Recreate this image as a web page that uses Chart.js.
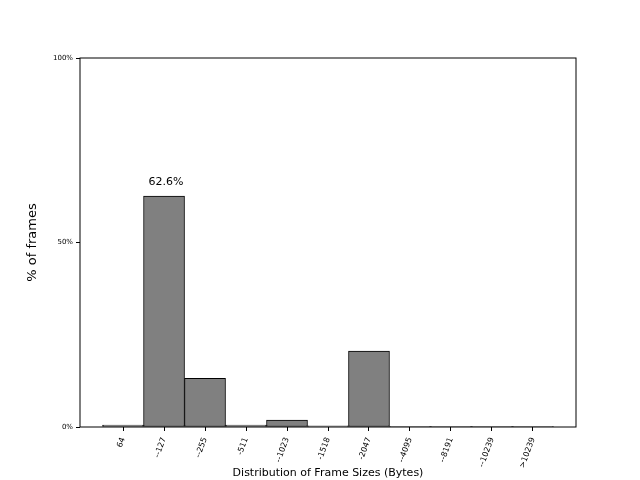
<!DOCTYPE html>
<html>
<head>
<meta charset="utf-8">
<title>Distribution of Frame Sizes</title>
<script src="https://cdn.jsdelivr.net/npm/chart.js@4/dist/chart.umd.min.js"></script>
<style>
    body { margin: 0; background: #fff; }
    canvas { display: block; }
</style>
</head>
<body>
<canvas id="chart" width="640" height="480"></canvas>
<script>
// Tailles de trames (labels de l'axe X)
const sizeLabels = ['64', '--127', '--255', '-511', '--1023', '-1518', '-2047', '--4095', '--8191', '--10239', '>10239'];
// Pourcentage de trames par tranche
const framePercent = [0.5, 62.6, 13.2, 0.5, 1.9, 0.3, 20.6, 0.2, 0.2, 0.2, 0.2];
// Graduations de l'axe Y
const yTicks = [0, 50, 100];

const FONT = 'DejaVu Sans';

// Cadre noir autour de la zone de tracé
const framePlugin = {
    id: 'frame',
    afterDraw(chart) {
        const { ctx, chartArea: a } = chart;
        ctx.save();
        ctx.strokeStyle = '#000';
        ctx.lineWidth = 1;
        ctx.strokeRect(a.left, a.top, a.right - a.left, a.bottom - a.top);
        ctx.restore();
    }
};

// Étiquette de la plus grande barre
const peakLabelPlugin = {
    id: 'peakLabel',
    afterDatasetsDraw(chart) {
        const { ctx } = chart;
        const values = chart.data.datasets[0].data.map(p => p.y);
        const idx = values.indexOf(Math.max(...values));
        const bar = chart.getDatasetMeta(0).data[idx];
        ctx.save();
        ctx.fillStyle = '#000';
        ctx.font = `11px "${FONT}"`;
        ctx.textAlign = 'center';
        ctx.textBaseline = 'bottom';
        ctx.fillText(values[idx].toFixed(1) + '%', bar.x + 2, bar.y - 8);
        ctx.restore();
    }
};

new Chart(document.getElementById('chart'), {
    type: 'bar',
    data: {
        datasets: [{
            data: framePercent.map((v, i) => ({ x: i, y: v })),
            backgroundColor: '#808080',
            borderColor: '#000',
            borderWidth: 1,
            borderSkipped: false,
            barPercentage: 1,
            categoryPercentage: 1
        }]
    },
    options: {
        responsive: false,
        animation: false,
        layout: { padding: { top: 58, right: 64, left: 0, bottom: 0 } },
        plugins: {
            legend: { display: false },
            tooltip: { enabled: false }
        },
        scales: {
            x: {
                type: 'linear',
                min: -1.05,
                max: 11.05,
                offset: false,
                afterBuildTicks: (axis) => {
                    axis.ticks = sizeLabels.map((_, i) => ({ value: i }));
                },
                afterFit: (axis) => { axis.height = 53; },
                grid: {
                    display: true,
                    offset: false,
                    drawOnChartArea: false,
                    color: '#000',
                    tickLength: 4
                },
                border: { display: false },
                ticks: {
                    autoSkip: false,
                    minRotation: 70,
                    maxRotation: 70,
                    padding: 5,
                    color: '#000',
                    font: { family: FONT, size: 8 },
                    callback: (v) => sizeLabels[v]
                },
                title: {
                    display: true,
                    text: 'Distribution of Frame Sizes (Bytes)',
                    color: '#000',
                    font: { family: FONT, size: 11 },
                    padding: { top: 0, bottom: 0 }
                }
            },
            y: {
                min: 0,
                max: 100,
                afterBuildTicks: (axis) => {
                    axis.ticks = yTicks.map(v => ({ value: v }));
                },
                afterFit: (axis) => { axis.width = 80; },
                grid: {
                    display: true,
                    drawOnChartArea: false,
                    color: '#000',
                    tickLength: 4
                },
                border: { display: false },
                ticks: {
                    padding: 3,
                    color: '#000',
                    font: { family: FONT, size: 7 },
                    callback: (v) => v + '%'
                },
                title: {
                    display: true,
                    text: '% of frames',
                    color: '#000',
                    font: { family: FONT, size: 13 },
                    padding: { top: 25, bottom: 0 }
                }
            }
        }
    },
    plugins: [framePlugin, peakLabelPlugin]
});
</script>
</body>
</html>
